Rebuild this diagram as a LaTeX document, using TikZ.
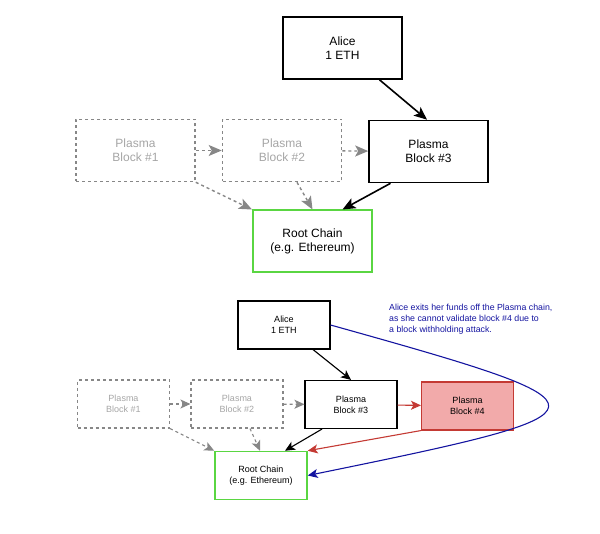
\documentclass[tikz,border=0pt]{standalone}
\usepackage{fontspec}
\setmainfont{Liberation Sans}
\usetikzlibrary{arrows.meta}
\definecolor{rootgreen}{RGB}{90,214,66}
\definecolor{fadegray}{RGB}{135,135,135}
\definecolor{blockred}{RGB}{196,58,52}
\definecolor{blockpink}{RGB}{242,170,170}
\definecolor{exitblue}{RGB}{20,20,160}
\begin{document}
\begin{tikzpicture}[x=1pt, y=-1pt,
		big/.style={draw, line width=1.6pt, minimum width=119pt, minimum height=62pt, inner sep=0pt, align=center, font=\fontsize{12}{14}\selectfont},
		small/.style={draw, line width=1.1pt, minimum width=92pt, minimum height=48pt, inner sep=0pt, align=center, font=\fontsize{9}{11}\selectfont},
		old/.style={draw=fadegray, text=fadegray!75, dash pattern=on 3pt off 3pt},
		root/.style={draw=rootgreen},
		arr/.style={-{Stealth[length=13pt, width=11pt, inset=3pt]}},
		arrs/.style={-{Stealth[length=10pt, width=9pt, inset=2.5pt]}},
		oldarr/.style={fadegray, dash pattern=on 3pt off 3pt}]
	\useasboundingbox (0,0) rectangle (600,534);
	% top: before the attack
	\node[big] (alice) at (342.5,48) {Alice\\1 ETH};
	\node[big, old] (b1) at (135.5,150.5) {Plasma\\Block \#1};
	\node[big, old] (b2) at (282,150.5) {Plasma\\Block \#2};
	\node[big] (b3) at (428.5,151.5) {Plasma\\Block \#3};
	\node[big, root, line width=2pt] (root) at (312.5,241.5) {Root Chain\\(e.g. Ethereum)};
	\draw[arr, oldarr, line width=1.4pt] (b1) -- (b2);
	\draw[arr, oldarr, line width=1.4pt] (b2) -- (b3);
	\draw[arr, oldarr, line width=1.4pt] (b1.south east) -- (root.north west);
	\draw[arr, oldarr, line width=1.4pt] ([xshift=15pt]b2.south) -- (root.north);
	\draw[arr, line width=1.6pt] ([xshift=37pt]alice.south) -- ([xshift=-1.5pt]b3.north);
	\draw[arr, line width=1.6pt] ([xshift=-38pt]b3.south) -- ([xshift=30pt]root.north);
	% bottom: block #4 withheld
	\node[small] (alice2) at (284,325) {Alice\\1 ETH};
	\node[small, old] (c1) at (123.5,404) {Plasma\\Block \#1};
	\node[small, old] (c2) at (237,404) {Plasma\\Block \#2};
	\node[small] (c3) at (351,404.5) {Plasma\\Block \#3};
	\node[small, draw=blockred, fill=blockpink] (c4) at (467.5,406) {Plasma\\Block \#4};
	\node[small, root, line width=1.5pt] (root2) at (261,475.5) {Root Chain\\(e.g. Ethereum)};
	\draw[arrs, oldarr, line width=1.1pt] (c1) -- (c2);
	\draw[arrs, oldarr, line width=1.1pt] (c2) -- (c3);
	\draw[arrs, oldarr, line width=1.1pt] (c1.south east) -- (root2.north west);
	\draw[arrs, oldarr, line width=1.1pt] ([xshift=13pt]c2.south) -- ([xshift=-1pt]root2.north);
	\draw[arrs, line width=1.1pt] ([xshift=29pt]alice2.south) -- (c3.north);
	\draw[arrs, line width=1.1pt] ([xshift=-29pt]c3.south) -- ([xshift=24pt]root2.north);
	\draw[arrs, line width=1.1pt, blockred] (c3) -- (c4);
	\draw[arrs, line width=1.1pt, blockred] (c4.south west) -- (root2.north east);
	\draw[arrs, line width=1.1pt, exitblue] (alice2.east) .. controls (624,407) and (624,411) .. (root2.east);
	\node[anchor=north west, align=left, inner sep=0pt, text=exitblue, font=\fontsize{8.8}{11}\selectfont] (note) at (389,304)
		{Alice exits her funds off the Plasma chain,\\as she cannot validate block \#4 due to\\a block withholding attack.};
\end{tikzpicture}
\end{document}
